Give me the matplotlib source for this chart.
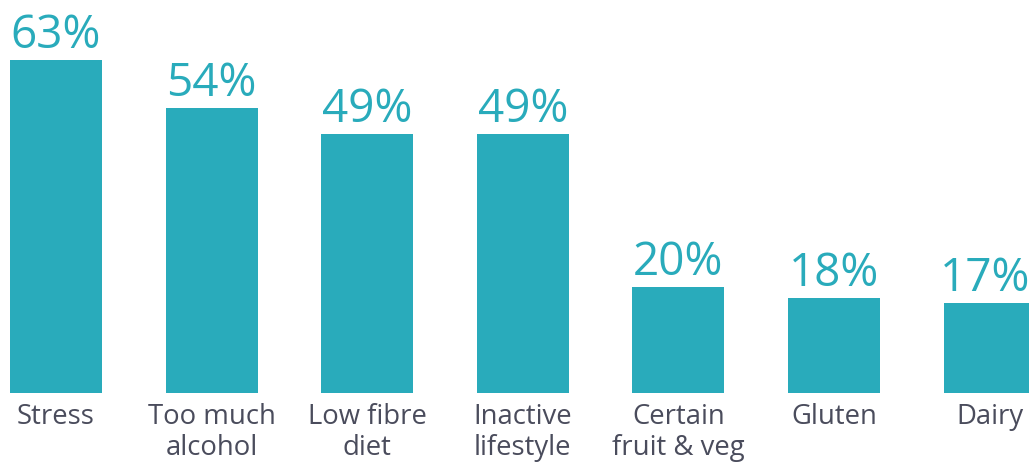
import matplotlib
matplotlib.use("Agg")
import matplotlib.pyplot as plt

# --- DATA ---
categories = ["Stress", "Too much\nalcohol", "Low fibre\ndiet", "Inactive\nlifestyle",
              "Certain\nfruit & veg", "Gluten", "Dairy"]
values = [63, 54, 49, 49, 20, 18, 17]

TEAL = "#29ABBB"
GREY = "#4A4C5C"
FONT = ["Open Sans", "DejaVu Sans"]

W, H = 1029, 462
fig = plt.figure(figsize=(W / 100, H / 100), dpi=100)
fig.patch.set_facecolor("white")

# bars sit on a baseline 69 px above the bottom edge
ax = fig.add_axes([0, 69 / H, 1, 393 / H])
ax.set_facecolor("none")

x = list(range(len(values)))
ax.bar(x, values, width=0.59, color=TEAL, linewidth=0)

step = 155.6
ax.set_xlim(-56 / step, (W - 56) / step)
ax.set_ylim(0, 393 / 5.286)
ax.axis("off")

for xi, v, cat in zip(x, values, categories):
    # last label hugs the right edge, nudge it in a little
    dx = -3 if xi == len(values) - 1 else 0
    ax.annotate(f"{v}%", (xi, v), xytext=(dx, 8.6), textcoords="offset points",
                ha="center", va="baseline", color=TEAL, fontsize=33,
                family=FONT, annotation_clip=False)
    ax.annotate(cat, (xi, 0), xytext=(0, -7.5), textcoords="offset points",
                ha="center", va="top", color=GREY, fontsize=19.8,
                family=FONT, weight="medium", linespacing=1.12,
                annotation_clip=False)

plt.savefig("out.png", dpi=100, facecolor=fig.get_facecolor())
plt.close(fig)
